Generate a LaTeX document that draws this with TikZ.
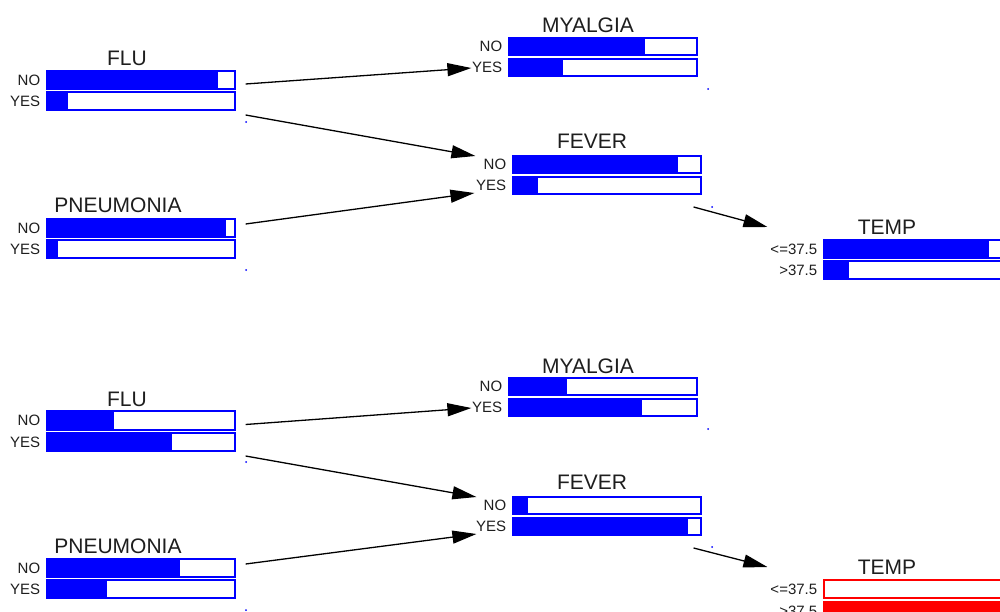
\documentclass[tikz,border=0pt]{standalone}
\usepackage{fontspec}
\setmainfont{Liberation Sans}
\usetikzlibrary{arrows.meta,fit}
\definecolor{netblue}{RGB}{0,0,255}
\definecolor{netred}{RGB}{255,0,0}
\definecolor{labgray}{RGB}{30,30,30}
\tikzset{
  ttl/.style={inner sep=0pt, anchor=base, font=\fontsize{21}{24}\selectfont, text=labgray},
  lab/.style={inner sep=0pt, anchor=east, font=\fontsize{15}{17}\selectfont, text=labgray},
  arr/.style={line width=1.3pt, -{Triangle[length=24pt,width=13pt]}},
  dotm/.style={fill=netblue},
}
% bar: name, label, left, top, right, bottom, fill x, color
\newcommand\pbar[8]{%
  \fill[#8] (#3,#4) rectangle (#7,#6);
  \node[fit={(#3,#4)(#5,#6)}, inner sep=0pt, draw=#8, line width=1.2pt] (#1) {};
  \node[lab] (#1-l) at ([xshift=-6pt]#1.west) {#2};
}
\begin{document}
\begin{tikzpicture}[x=1pt,y=-1pt]
\useasboundingbox (0,0) rectangle (1000,612);
\clip (0,0) rectangle (1000,612);
\fill[white] (0,0) rectangle (1000,612);

% ---------- top network ----------
\node[ttl] (t-flu) at (127,66) {FLU};
\pbar{t-flu-no}{NO}{47}{71}{235}{89}{218}{netblue}
\pbar{t-flu-yes}{YES}{47}{92}{235}{110}{68}{netblue}
\fill[dotm] (246,122) circle (1);

\node[ttl] (t-mya) at (588,33) {MYALGIA};
\pbar{t-mya-no}{NO}{509}{38}{697}{55}{645}{netblue}
\pbar{t-mya-yes}{YES}{509}{59}{697}{76}{563}{netblue}
\fill[dotm] (708,89) circle (1);

\node[ttl] (t-fev) at (592,149) {FEVER};
\pbar{t-fev-no}{NO}{513}{156}{701}{173}{678}{netblue}
\pbar{t-fev-yes}{YES}{513}{177}{701}{194}{538}{netblue}
\fill[dotm] (712,207) circle (1);

\node[ttl] (t-pne) at (118,213) {PNEUMONIA};
\pbar{t-pne-no}{NO}{47}{219}{235}{237}{226}{netblue}
\pbar{t-pne-yes}{YES}{47}{240}{235}{258}{58}{netblue}
\fill[dotm] (246,270) circle (1);

\node[ttl] (t-tmp) at (887,234) {TEMP};
\pbar{t-tmp-le}{<=37.5}{824}{240}{1012}{258}{989}{netblue}
\pbar{t-tmp-gt}{>37.5}{824}{261}{1012}{279}{849}{netblue}

\draw[arr] ([shift={(10,4)}]t-flu-no.east) -- ([shift={(-37,0.5)}]t-mya-yes.west);
\draw[arr] ([shift={(10,14)}]t-flu-yes.east) -- ([shift={(-37,-8.5)}]t-fev-no.west);
\draw[arr] ([shift={(10,-4)}]t-pne-no.east) -- ([shift={(-38,7.5)}]t-fev-yes.west);
\draw[arr] ([shift={(-8,21.5)}]t-fev-yes.east) -- ([shift={(-56,-22)}]t-tmp-le.west);

% ---------- bottom network ----------
\node[ttl] (b-flu) at (127,406) {FLU};
\pbar{b-flu-no}{NO}{47}{411}{235}{430}{114}{netblue}
\pbar{b-flu-yes}{YES}{47}{433}{235}{451}{172}{netblue}
\fill[dotm] (246,462) circle (1);

\node[ttl] (b-mya) at (588,373) {MYALGIA};
\pbar{b-mya-no}{NO}{509}{378}{697}{395}{567}{netblue}
\pbar{b-mya-yes}{YES}{509}{399}{697}{416}{642}{netblue}
\fill[dotm] (708,429) circle (1);

\node[ttl] (b-fev) at (592,489) {FEVER};
\pbar{b-fev-no}{NO}{513}{497}{701}{514}{528}{netblue}
\pbar{b-fev-yes}{YES}{513}{518}{701}{535}{688}{netblue}
\fill[dotm] (712,547) circle (1);

\node[ttl] (b-pne) at (118,553) {PNEUMONIA};
\pbar{b-pne-no}{NO}{47}{559}{235}{577}{180}{netblue}
\pbar{b-pne-yes}{YES}{47}{580}{235}{598}{107}{netblue}
\fill[dotm] (246,610) circle (1);

\node[ttl] (b-tmp) at (887,574) {TEMP};
\pbar{b-tmp-le}{<=37.5}{824}{580}{1012}{598}{824}{netred}
\pbar{b-tmp-gt}{>37.5}{824}{602}{1012}{620}{1012}{netred}

\draw[arr] ([shift={(10,4)}]b-flu-no.east) -- ([shift={(-37,0.5)}]b-mya-yes.west);
\draw[arr] ([shift={(10,14)}]b-flu-yes.east) -- ([shift={(-36,-8.5)}]b-fev-no.west);
\draw[arr] ([shift={(10,-4)}]b-pne-no.east) -- ([shift={(-36,7.5)}]b-fev-yes.west);
\draw[arr] ([shift={(-8,21.5)}]b-fev-yes.east) -- ([shift={(-56,-22)}]b-tmp-le.west);
\end{tikzpicture}
\end{document}
